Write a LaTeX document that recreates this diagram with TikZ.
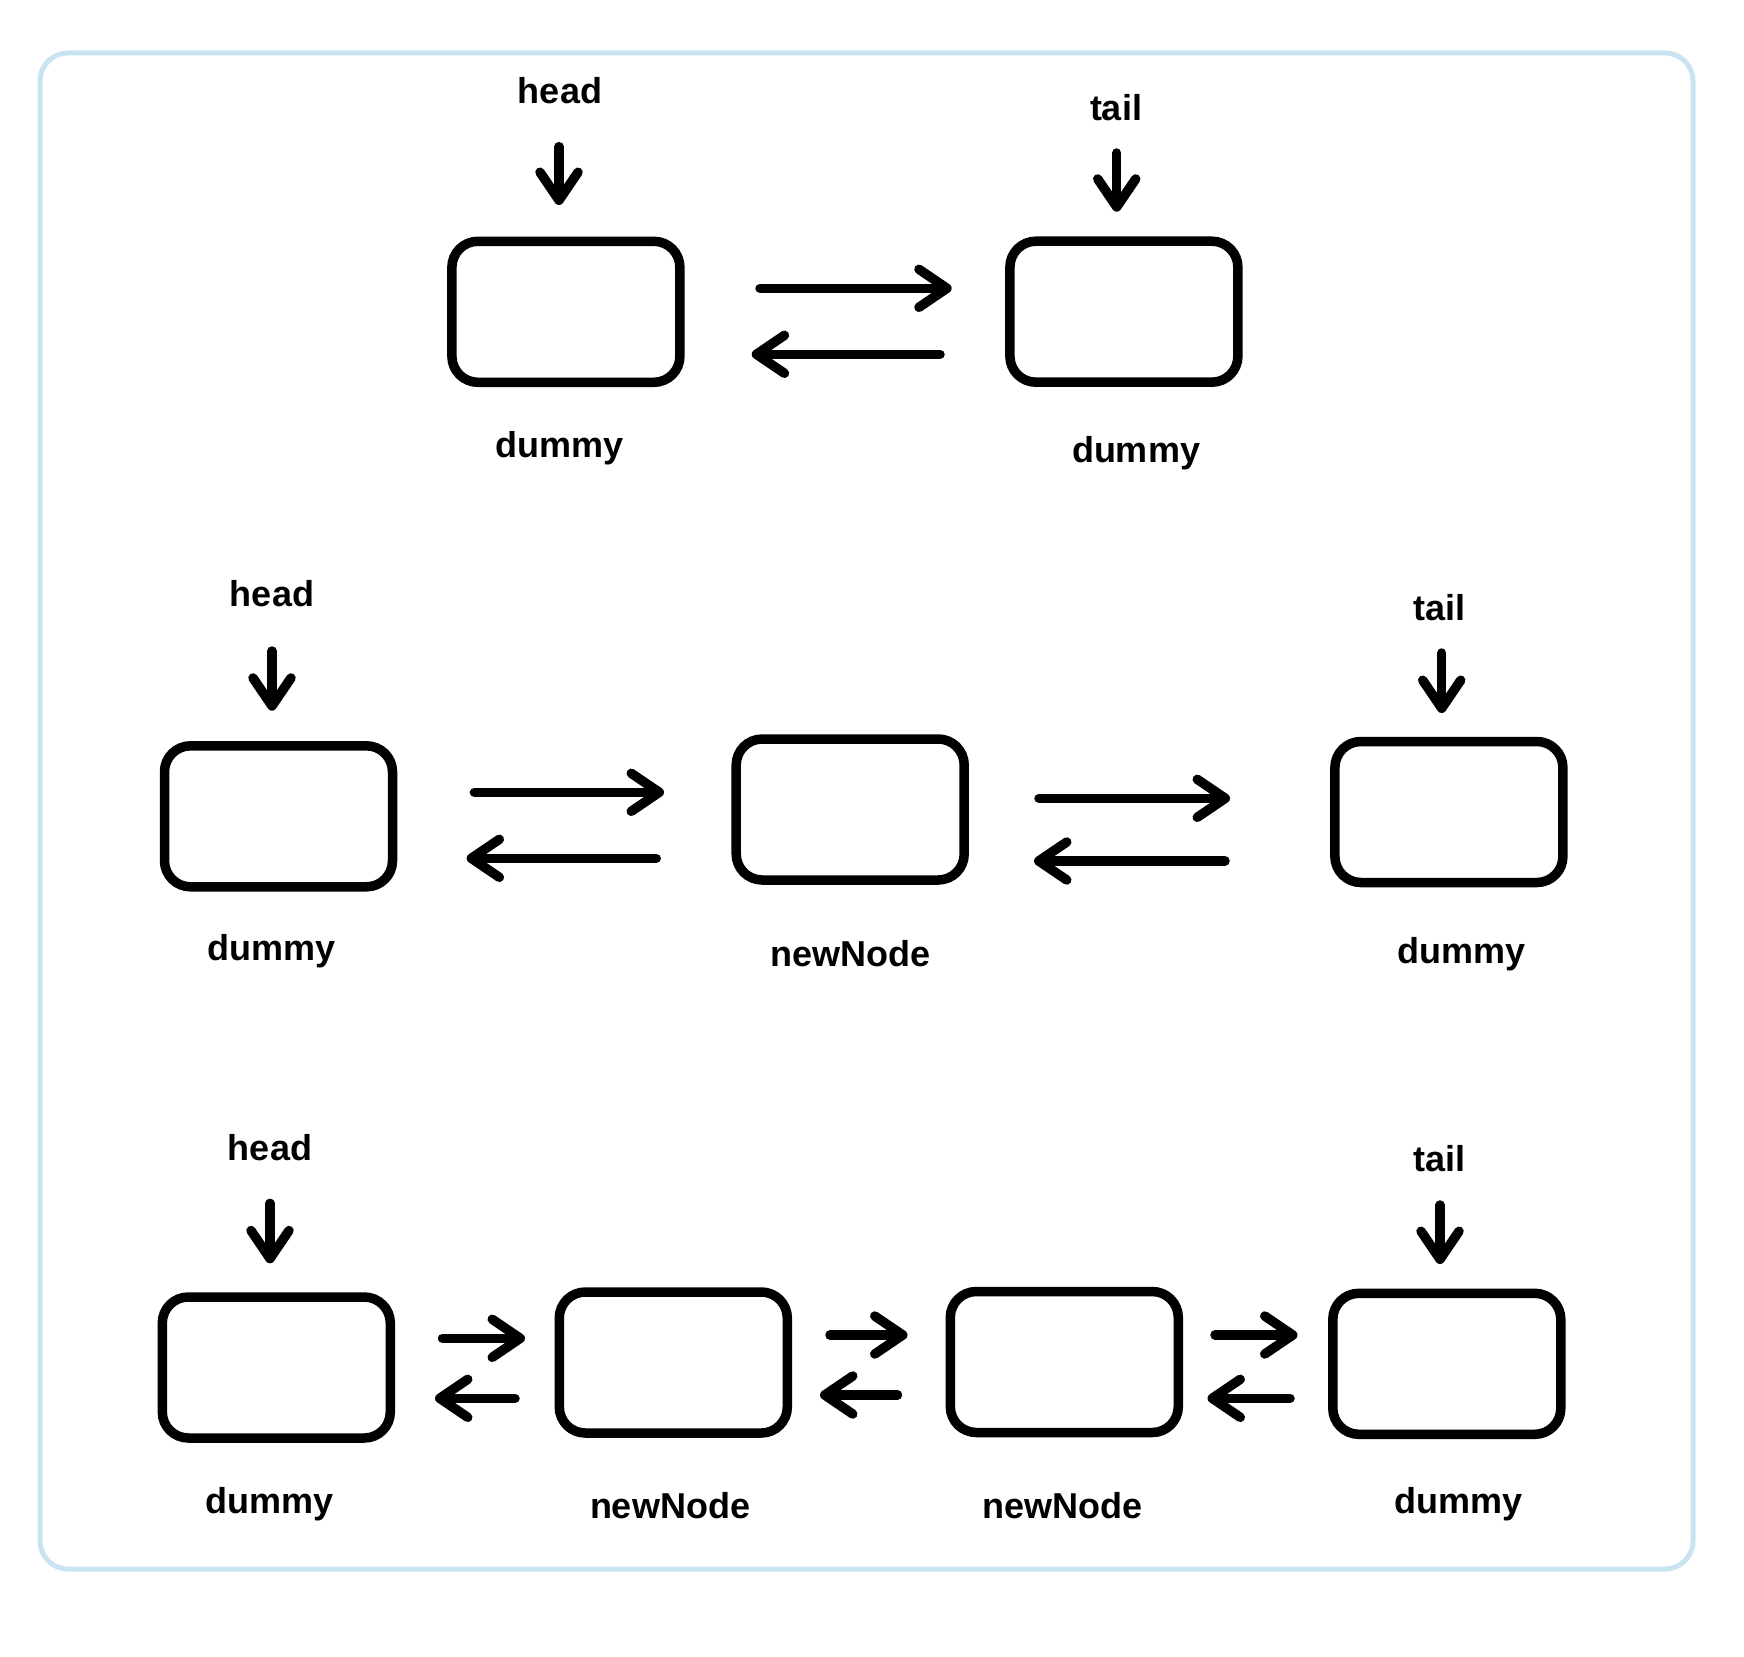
\documentclass[tikz,border=0pt]{standalone}
\usepackage{fontspec}
\setmainfont{Liberation Sans}
\newfontfamily\lblfamily{Liberation Sans}
\usetikzlibrary{arrows.meta}
\definecolor{framecol}{RGB}{200,228,240}
\tikzset{
  box/.style={draw=black, line width=9.5pt, rounded corners=26pt,
    minimum width=228pt, minimum height=141pt, inner sep=0pt},
  arr/.style={draw=black, line width=9.5pt, line cap=round,
    -{Straight Barb[length=28pt, width=38pt, round]}},
  lbl/.style={font=\lblfamily\bfseries\fontsize{36}{40}\selectfont,
    anchor=base, inner sep=0pt, text=black},
  frame/.style={draw=framecol, line width=5pt, rounded corners=28pt},
}
\begin{document}
\begin{tikzpicture}[x=1pt, y=-1pt]
\useasboundingbox (0,0) rectangle (1744,1656);
\draw[frame] (40,53) rectangle (1693,1569);

% ---------- Row 1 ----------
\node[box] (b11) at (565.9,311.8) {};
\node[box] (b12) at (1123.9,311.7) {};
\node[lbl] (h1) at (560,104) {head};
\node[lbl] (t1) at (1116,120.7) {tail};
\node[lbl] (d11) at (560,457.3) {dummy};
\node[lbl] (d12) at (1136,462) {dummy};
\coordinate (h1s) at (559,146.7);   \coordinate (h1e) at (559,205);
\coordinate (t1s) at (1116.7,153);  \coordinate (t1e) at (1116.7,211.7);
\coordinate (r1as) at (760,288.3);  \coordinate (r1ae) at (951.7,288.3);
\coordinate (r1bs) at (940,354.3);  \coordinate (r1be) at (751.7,354.3);
\draw[arr] (h1s) -- (h1e);
\draw[arr] (t1s) -- (t1e);
\draw[arr] (r1as) -- (r1ae);
\draw[arr] (r1bs) -- (r1be);

% ---------- Row 2 ----------
\node[box] (b21) at (278.5,816.3) {};
\node[box] (b22) at (850.2,809.5) {};
\node[box] (b23) at (1448.9,812) {};
\node[lbl] (h2) at (272,606.7) {head};
\node[lbl] (t2) at (1439.5,620) {tail};
\node[lbl] (d21) at (272,960) {dummy};
\node[lbl] (n22) at (850,966.7) {newNode};
\node[lbl] (d23) at (1461.3,963.3) {dummy};
\coordinate (h2s) at (272,651);     \coordinate (h2e) at (272,710.7);
\coordinate (t2s) at (1441.7,653);  \coordinate (t2e) at (1441.7,713);
\coordinate (r2as) at (474.4,792.3); \coordinate (r2ae) at (664,792.3);
\coordinate (r2bs) at (656.2,858.3); \coordinate (r2be) at (466.6,858.3);
\coordinate (r2cs) at (1039,798.3);  \coordinate (r2ce) at (1230,798.3);
\coordinate (r2ds) at (1225,861);    \coordinate (r2de) at (1034,861);
\draw[arr] (h2s) -- (h2e);
\draw[arr] (t2s) -- (t2e);
\draw[arr] (r2as) -- (r2ae);
\draw[arr] (r2bs) -- (r2be);
\draw[arr] (r2cs) -- (r2ce);
\draw[arr] (r2ds) -- (r2de);

% ---------- Row 3 ----------
\node[box] (b31) at (276.3,1367.5) {};
\node[box] (b32) at (673.3,1362.5) {};
\node[box] (b33) at (1064.3,1362) {};
\node[box] (b34) at (1446.8,1363.8) {};
\node[lbl] (h3) at (270,1160) {head};
\node[lbl] (t3) at (1439,1171.7) {tail};
\node[lbl] (d31) at (270,1513.3) {dummy};
\node[lbl] (n32) at (670,1518.3) {newNode};
\node[lbl] (n33) at (1062.5,1518.3) {newNode};
\node[lbl] (d34) at (1458.5,1513.3) {dummy};
\coordinate (h3s) at (270,1203.3);  \coordinate (h3e) at (270,1263.3);
\coordinate (t3s) at (1440,1205);   \coordinate (t3e) at (1440,1264);
\coordinate (r3as) at (442.5,1338.3); \coordinate (r3ae) at (525,1338.3);
\coordinate (r3bs) at (515,1398.3);   \coordinate (r3be) at (435,1398.3);
\coordinate (r3cs) at (830,1335);     \coordinate (r3ce) at (907.5,1335);
\coordinate (r3ds) at (897.5,1395);   \coordinate (r3de) at (820,1395);
\coordinate (r3es) at (1215,1335);    \coordinate (r3ee) at (1297.5,1335);
\coordinate (r3fs) at (1290,1398.3);  \coordinate (r3fe) at (1207.5,1398.3);
\draw[arr] (h3s) -- (h3e);
\draw[arr] (t3s) -- (t3e);
\draw[arr] (r3as) -- (r3ae);
\draw[arr] (r3bs) -- (r3be);
\draw[arr] (r3cs) -- (r3ce);
\draw[arr] (r3ds) -- (r3de);
\draw[arr] (r3es) -- (r3ee);
\draw[arr] (r3fs) -- (r3fe);
\end{tikzpicture}
\end{document}
